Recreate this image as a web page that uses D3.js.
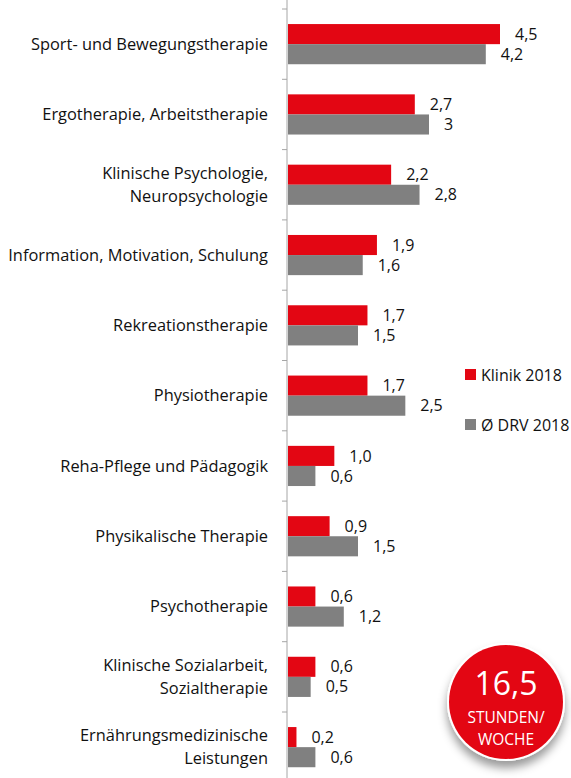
<!DOCTYPE html>
<html>
<head>
<meta charset="utf-8">
<script src="https://cdn.jsdelivr.net/npm/d3@7"></script>
<style>
  body { margin: 0; background: #fff; }
  svg { display: block; font-family: "Open Sans", sans-serif; }
</style>
</head>
<body>
<svg id="chart" width="571" height="778"></svg>
<script>
// Categories (two-line labels split by |)
const categories = [
  'Sport- und Bewegungstherapie',
  'Ergotherapie, Arbeitstherapie',
  'Klinische Psychologie,|Neuropsychologie',
  'Information, Motivation, Schulung',
  'Rekreationstherapie',
  'Physiotherapie',
  'Reha-Pflege und Pädagogik',
  'Physikalische Therapie',
  'Psychotherapie',
  'Klinische Sozialarbeit,|Sozialtherapie',
  'Ernährungsmedizinische|Leistungen'
];
const klinik = [4.5, 2.7, 2.2, 1.9, 1.7, 1.7, 1.0, 0.9, 0.6, 0.6, 0.2];
const drv = [4.2, 3, 2.8, 1.6, 1.5, 2.5, 0.6, 1.5, 1.2, 0.5, 0.6];
const seriesNames = ['Klinik 2018', 'Ø DRV 2018'];
const totalLabel = ['16,5', 'STUNDEN/', 'WOCHE'];

const red = '#e30613';
const grey = '#808080';
const ink = '#111';

const svg = d3.select('#chart');
const axisX = 287;
const topY = 9;
const step = 70.3;

const x = d3.scaleLinear().domain([0, 4.5]).range([axisX, axisX + 213]);
const y = d3.scaleBand()
  .domain(categories)
  .range([topY, topY + step * categories.length]);
const inner = d3.scaleBand()
  .domain(['k', 'd'])
  .range([0, y.bandwidth()])
  .paddingOuter(0.75)
  .paddingInner(0);

// Axis line with ticks at the band boundaries
svg.append('line')
  .attr('x1', axisX).attr('x2', axisX)
  .attr('y1', 0).attr('y2', 778)
  .attr('stroke', '#a6a6a6').attr('stroke-width', 1);
categories.forEach(c => {
  svg.append('line')
    .attr('x1', axisX - 5).attr('x2', axisX)
    .attr('y1', y(c)).attr('y2', y(c))
    .attr('stroke', '#a6a6a6');
});

const fmtK = v => v.toFixed(1).replace('.', ',');
const fmtD = v => String(v).replace('.', ',');

const groups = svg.selectAll('g.cat')
  .data(categories)
  .enter().append('g')
  .attr('class', 'cat')
  .attr('transform', d => `translate(0,${y(d)})`);

// Category labels
groups.each(function (d) {
  const lines = d.split('|');
  const t = d3.select(this).append('text')
    .attr('x', 268)
    .attr('text-anchor', 'end')
    .attr('font-size', 16.4)
    .attr('fill', ink);
  const cy = y.bandwidth() / 2;
  lines.forEach((l, i) => {
    t.append('tspan')
      .attr('x', 268)
      .attr('y', cy + (i - (lines.length - 1) / 2) * 23)
      .attr('dy', '0.35em')
      .text(l);
  });
});

// Bars
groups.append('rect')
  .attr('x', axisX + 1)
  .attr('y', inner('k'))
  .attr('width', (d, i) => x(klinik[i]) - axisX - 1)
  .attr('height', inner.bandwidth())
  .attr('fill', red);
groups.append('rect')
  .attr('x', axisX + 1)
  .attr('y', inner('d'))
  .attr('width', (d, i) => x(drv[i]) - axisX - 1)
  .attr('height', inner.bandwidth())
  .attr('fill', grey);

// Value labels
groups.append('text')
  .attr('x', (d, i) => x(klinik[i]) + 15)
  .attr('y', inner('k') + inner.bandwidth() / 2)
  .attr('dy', '0.35em')
  .attr('font-size', 16)
  .attr('fill', ink)
  .text((d, i) => fmtK(klinik[i]));
groups.append('text')
  .attr('x', (d, i) => x(drv[i]) + 15)
  .attr('y', inner('d') + inner.bandwidth() / 2)
  .attr('dy', '0.35em')
  .attr('font-size', 16)
  .attr('fill', ink)
  .text((d, i) => fmtD(drv[i]));

// Legend
const legend = svg.append('g').attr('transform', 'translate(465,369)');
seriesNames.forEach((s, i) => {
  const g = legend.append('g').attr('transform', `translate(0,${i * 50})`);
  g.append('rect').attr('width', 11).attr('height', 11).attr('fill', i === 0 ? red : grey);
  g.append('text').attr('x', 16).attr('y', 6).attr('dy', '0.35em')
    .attr('font-size', 16).attr('fill', ink).text(s);
});

// Total badge
const defs = svg.append('defs');
const f = defs.append('filter').attr('id', 'shadow')
  .attr('x', '-30%').attr('y', '-30%').attr('width', '160%').attr('height', '170%');
f.append('feDropShadow').attr('dx', 0).attr('dy', 7).attr('stdDeviation', 5)
  .attr('flood-color', '#000').attr('flood-opacity', 0.4);

const badge = svg.append('g').attr('transform', 'translate(506,702)');
badge.append('circle').attr('r', 59).attr('fill', '#fff').attr('filter', 'url(#shadow)');
badge.append('circle').attr('r', 57).attr('fill', red);
badge.append('text').attr('y', -7).attr('text-anchor', 'middle')
  .attr('font-size', 32).attr('fill', '#fff').text(totalLabel[0]);
badge.append('text').attr('y', 21).attr('text-anchor', 'middle')
  .attr('font-size', 15.5).attr('fill', '#fff').text(totalLabel[1]);
badge.append('text').attr('y', 43).attr('text-anchor', 'middle')
  .attr('font-size', 15.5).attr('fill', '#fff').text(totalLabel[2]);
</script>
</body>
</html>
